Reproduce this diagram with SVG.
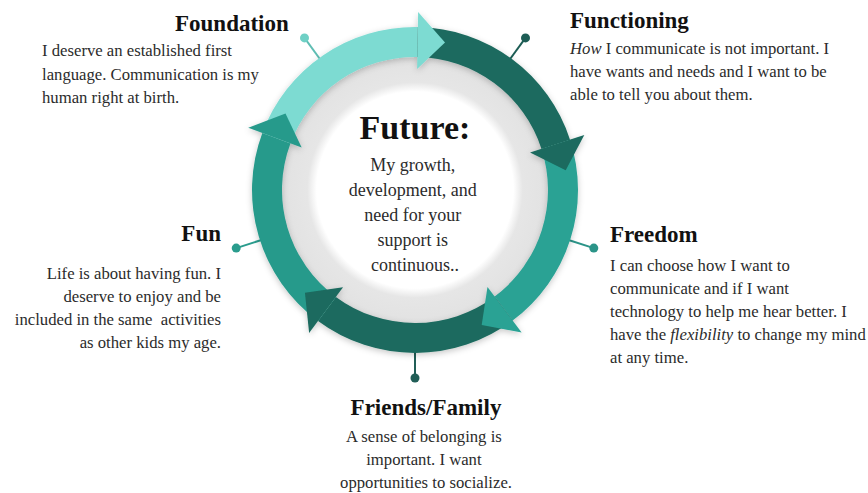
<svg xmlns="http://www.w3.org/2000/svg" width="868" height="493" viewBox="0 0 868 493">
  <defs>
    <style>
      .title { font-family: "Liberation Serif", "Times New Roman", serif; font-weight: bold; font-size: 23px; fill: #111; }
      .body { font-family: "Liberation Serif", "Times New Roman", serif; font-size: 16.7px; fill: #2b2b2b; }
      .center-title { font-family: "Liberation Serif", "Times New Roman", serif; font-weight: bold; font-size: 34px; fill: #111; }
      .center-body { font-family: "Liberation Serif", "Times New Roman", serif; font-size: 18px; fill: #2b2b2b; }
      .it { font-style: italic; }
      .light { fill: #7ddbd2; }
      .dark { fill: #1b6a5e; }
      .mid-a { fill: #2aa294; }
      .mid-b { fill: #279a8b; }
      .pin { stroke-width: 2; fill: none; }
    </style>
    <radialGradient id="hub-fill" cx="415" cy="190" r="133" gradientUnits="userSpaceOnUse">
      <stop offset="0" stop-color="#ffffff"/>
      <stop offset="0.74" stop-color="#ffffff"/>
      <stop offset="0.81" stop-color="#e6e6e6"/>
      <stop offset="1" stop-color="#e2e2e2"/>
    </radialGradient>
    <filter id="soft-shadow" x="-15%" y="-15%" width="130%" height="130%">
      <feDropShadow dx="0" dy="2" stdDeviation="3" flood-color="#000" flood-opacity="0.22"/>
    </filter>
  </defs>

  <rect width="868" height="493" fill="#ffffff"/>

  <!-- connectors: pins from the ring out to each stage -->
  <g id="connectors">
    <line class="pin" x1="321" y1="60.5" x2="304.5" y2="37.9" stroke="#5fbdb3"/>
    <circle cx="304.5" cy="37.9" r="4.5" fill="#6fd0c5"/>
    <line class="pin" x1="509" y1="60.5" x2="525.5" y2="37.9" stroke="#1d5d55"/>
    <circle cx="525.5" cy="37.9" r="4.5" fill="#1d5d55"/>
    <line class="pin" x1="567" y1="239.5" x2="593.8" y2="248.1" stroke="#2b9488"/>
    <circle cx="593.8" cy="248.1" r="4.5" fill="#2b9488"/>
    <line class="pin" x1="415" y1="350" x2="415" y2="378" stroke="#215e57"/>
    <circle cx="415" cy="378" r="4.5" fill="#215e57"/>
    <line class="pin" x1="263" y1="239.5" x2="236.2" y2="248.1" stroke="#2a9c8d"/>
    <circle cx="236.2" cy="248.1" r="4.5" fill="#2a9c8d"/>
  </g>

  <!-- hub: grey band with white core -->
  <circle cx="415" cy="190" r="134" fill="url(#hub-fill)"/>

  <!-- cycle ring: five arc bodies, then arrowheads laid over the next body -->
  <g id="cycle-ring" filter="url(#soft-shadow)">
    <path class="light" d="M262.32 132.92 A163 163 0 0 1 417.84 27.02 L417.32 57.02 A133 133 0 0 0 290.42 143.42 Z"/>
    <path class="dark" d="M417.84 27.02 A163 163 0 0 1 570.02 139.63 L541.49 148.90 A133 133 0 0 0 417.32 57.02 Z"/>
    <path class="mid-a" d="M570.02 139.63 A163 163 0 0 1 512.64 320.52 L494.67 296.50 A133 133 0 0 0 541.49 148.90 Z"/>
    <path class="dark" d="M512.64 320.52 A163 163 0 0 1 318.04 321.03 L335.88 296.92 A133 133 0 0 0 494.67 296.50 Z"/>
    <path class="mid-b" d="M318.04 321.03 A163 163 0 0 1 262.32 132.92 L290.42 143.42 A133 133 0 0 0 335.88 296.92 Z"/>

    <polygon class="light" points="418.11,12.03 445.0,42.52 417.11,69.02"/>
    <polygon class="dark" points="584.29,134.99 565.7,170.2 530.08,152.61"/>
    <polygon class="mid-a" points="521.63,332.53 481.68,324.92 487.48,286.89"/>
    <polygon class="dark" points="309.12,333.09 304.93,292.64 343.03,287.27"/>
    <polygon class="mid-b" points="248.27,127.66 285.5,113.5 301.66,147.62"/>
  </g>

  <g id="node-future">
    <text class="center-title" x="415" y="139" text-anchor="middle">Future:</text>
    <text class="center-body" text-anchor="middle">
      <tspan x="415" y="171">My growth,</tspan>
      <tspan x="415" y="196">development, and</tspan>
      <tspan x="415" y="221">need for your</tspan>
      <tspan x="415" y="246">support is</tspan>
      <tspan x="415" y="271">continuous..</tspan>
    </text>
  </g>

  <g id="node-foundation">
    <text class="title" x="175" y="31">Foundation</text>
    <text class="body">
      <tspan x="42" y="56">I deserve an established first</tspan>
      <tspan x="42" y="80">language. Communication is my</tspan>
      <tspan x="42" y="103">human right at birth.</tspan>
    </text>
  </g>

  <g id="node-functioning">
    <text class="title" x="570" y="28">Functioning</text>
    <text class="body" x="570" y="54"><tspan class="it">How</tspan> I communicate is not important. I</text>
    <text class="body">
      <tspan x="570" y="77">have wants and needs and I want to be</tspan>
      <tspan x="570" y="100">able to tell you about them.</tspan>
    </text>
  </g>

  <g id="node-freedom">
    <text class="title" x="610" y="242">Freedom</text>
    <text class="body">
      <tspan x="610" y="271">I can choose how I want to</tspan>
      <tspan x="610" y="294">communicate and if I want</tspan>
      <tspan x="610" y="317">technology to help me hear better. I</tspan>
    </text>
    <text class="body" x="610" y="340">have the <tspan class="it">flexibility</tspan> to change my mind</text>
    <text class="body" x="610" y="363">at any time.</text>
  </g>

  <g id="node-friends-family">
    <text class="title" x="426" y="415" text-anchor="middle">Friends/Family</text>
    <text class="body" text-anchor="middle">
      <tspan x="426" y="442">A sense of belonging is</tspan>
      <tspan x="426" y="465">important. I want</tspan>
      <tspan x="426" y="488">opportunities to socialize.</tspan>
    </text>
  </g>

  <g id="node-fun">
    <text class="title" x="221" y="241" text-anchor="end">Fun</text>
    <text class="body" x="221" y="279" text-anchor="end">Life is about having fun. I</text>
    <text class="body" x="221" y="302" text-anchor="end">deserve to enjoy and be</text>
    <text class="body" x="221" y="325" text-anchor="end" xml:space="preserve">included in the same  activities</text>
    <text class="body" x="221" y="348" text-anchor="end">as other kids my age.</text>
  </g>
</svg>
